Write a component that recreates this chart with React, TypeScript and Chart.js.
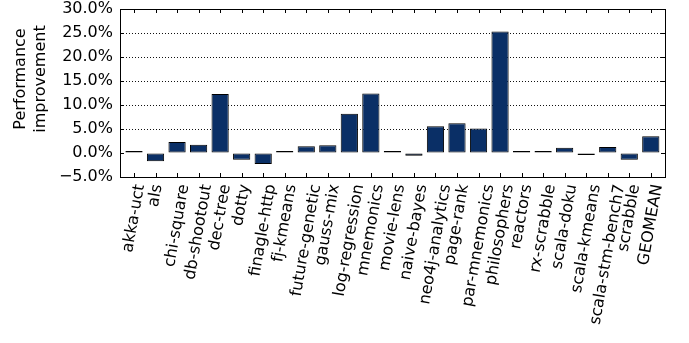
import React, { useEffect, useRef } from "react";
import { Chart, registerables } from "chart.js";

Chart.register(...registerables);

const categories: string[] = [
  "akka-uct", "als", "chi-square", "db-shootout", "dec-tree", "dotty",
  "finagle-http", "fj-kmeans", "future-genetic", "gauss-mix", "log-regression",
  "mnemonics", "movie-lens", "naive-bayes", "neo4j-analytics", "page-rank",
  "par-mnemonics", "philosophers", "reactors", "rx-scrabble", "scala-doku",
  "scala-kmeans", "scala-stm-bench7", "scrabble", "GEOMEAN",
];

const improvement: number[] = [
  0.15, -1.7, 2.3, 1.7, 12.3, -1.4,
  -2.3, 0.4, 1.4, 1.6, 8.2,
  12.4, 0.15, -0.55, 5.55, 6.2,
  5.1, 25.3, 0.4, 0.25, 1.1,
  -0.1, 1.25, -1.4, 3.5,
];

const yTicks: number[] = [-5, 0, 5, 10, 15, 20, 25, 30];
const yTitleLines: string[] = ["Performance", "improvement"];

const FONT = "DejaVu Sans";

const framePlugin = {
  id: "framePlugin",
  afterDraw(chart: any) {
    const { ctx, chartArea } = chart;
    const xs = chart.scales.x;
    const ys = chart.scales.y;
    const { left, right, top, bottom } = chartArea;
    ctx.save();
    ctx.strokeStyle = "#000";
    ctx.lineWidth = 1;
    ctx.strokeRect(Math.round(left) + 0.5, Math.round(top) + 0.5, Math.round(right - left), Math.round(bottom - top));
    const tl = 4;
    ctx.beginPath();
    yTicks.forEach((v) => {
      const y = Math.round(ys.getPixelForValue(v)) + 0.5;
      ctx.moveTo(left, y); ctx.lineTo(left + tl, y);
      ctx.moveTo(right, y); ctx.lineTo(right - tl, y);
    });
    categories.forEach((_, i) => {
      const x = Math.round(xs.getPixelForValue(i)) + 0.5;
      ctx.moveTo(x, bottom); ctx.lineTo(x, bottom - tl);
      ctx.moveTo(x, top); ctx.lineTo(x, top + tl);
    });
    ctx.stroke();

    // x labels rotated 80 degrees
    ctx.fillStyle = "#000";
    ctx.font = `16px "${FONT}"`;
    ctx.textAlign = "right";
    ctx.textBaseline = "middle";
    const ang = (80 * Math.PI) / 180;
    categories.forEach((label, i) => {
      const w = ctx.measureText(label).width;
      const x = xs.getPixelForValue(i) + (w * Math.cos(ang)) / 2;
      const y = bottom + 7.5;
      ctx.save();
      ctx.translate(x, y);
      ctx.rotate(-ang);
      ctx.fillText(label, 0, 0);
      ctx.restore();
    });

    // y title
    ctx.textAlign = "center";
    ctx.textBaseline = "middle";
    const cy = 79;
    yTitleLines.forEach((line, k) => {
      ctx.save();
      ctx.translate(21 + k * 20, cy);
      ctx.rotate(-Math.PI / 2);
      ctx.fillText(line, 0, 0);
      ctx.restore();
    });
    ctx.restore();
  },
};

export default function App() {
  const ref = useRef<HTMLCanvasElement | null>(null);
  useEffect(() => {
    if (!ref.current) return;
    const chart = new Chart(ref.current, {
      type: "bar",
      data: {
        datasets: [
          {
            data: improvement.map((v, i) => ({ x: i, y: v })),
            backgroundColor: "#0a2f66",
            borderColor: "#000",
            borderWidth: 1,
            borderSkipped: false,
            minBarLength: 2,
            barPercentage: 0.8,
            categoryPercentage: 1,
          },
        ],
      },
      options: {
        animation: false,
        responsive: false,
        maintainAspectRatio: false,
        layout: { padding: { top: 9, right: 24, bottom: 166, left: 0 } },
        plugins: { legend: { display: false }, tooltip: { enabled: false }, title: { display: false } },
        scales: {
          x: {
            type: "linear",
            min: -0.65,
            max: 24.66,
            offset: false,
            grid: { display: false, drawTicks: false },
            border: { display: false },
            ticks: { display: false },
            afterBuildTicks: (scale: any) => {
              scale.ticks = categories.map((_, i) => ({ value: i }));
            },
            afterFit: (scale: any) => {
              scale.height = 0;
              scale.paddingLeft = 0;
              scale.paddingRight = 0;
            },
          },
          y: {
            min: -5,
            max: 30,
            border: { display: false, dash: [1, 2] },
            grid: {
              drawTicks: false,
              color: (c: any) => (c.tick && c.tick.value > 0 && c.tick.value < 30 ? "#111" : "rgba(0,0,0,0)"),
              lineWidth: 1,
            },
            ticks: {
              stepSize: 5,
              padding: 7,
              color: "#000",
              font: { family: FONT, size: 16 },
              callback: (v: any) => (v < 0 ? "\u2212" : "") + Math.abs(Number(v)).toFixed(1) + "%",
            },
            afterFit: (scale: any) => {
              scale.width = 120;
              scale.paddingTop = 0;
              scale.paddingBottom = 0;
            },
          },
        },
      } as any,
      plugins: [framePlugin],
    });
    return () => chart.destroy();
  }, []);
  return (
    <div style={{ position: "fixed", left: 0, top: 0, width: 689, height: 343, background: "#fff" }}>
      <canvas ref={ref} width={689} height={343} style={{ display: "block", width: 689, height: 343 }} />
    </div>
  );
}
